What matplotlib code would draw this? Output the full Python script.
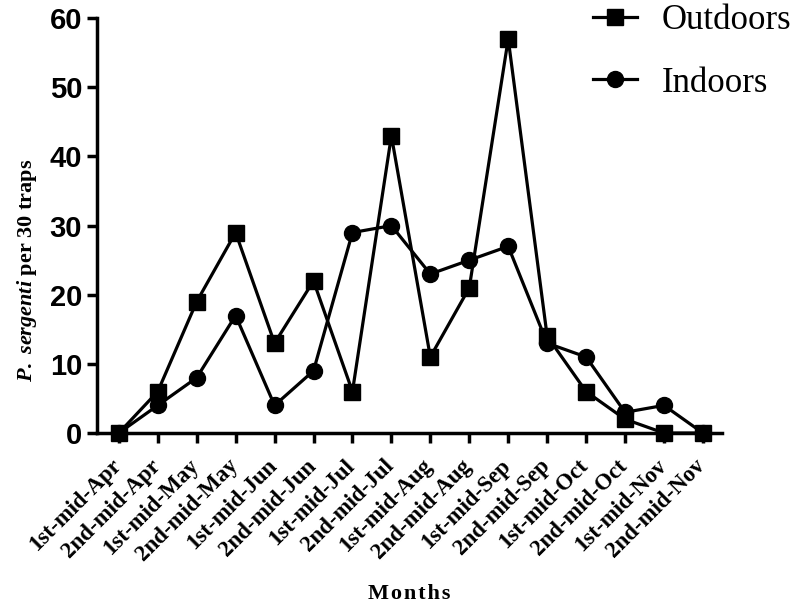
import matplotlib
matplotlib.use("Agg")
import matplotlib.pyplot as plt
from matplotlib.lines import Line2D
from matplotlib.transforms import ScaledTranslation

plt.rcParams["mathtext.fontset"] = "custom"
plt.rcParams["mathtext.it"] = "Liberation Serif:italic:bold"
plt.rcParams["mathtext.rm"] = "Liberation Serif:bold"
plt.rcParams["mathtext.bf"] = "Liberation Serif:bold"

categories = ["1st-mid-Apr", "2nd-mid-Apr", "1st-mid-May", "2nd-mid-May",
              "1st-mid-Jun", "2nd-mid-Jun", "1st-mid-Jul", "2nd-mid-Jul",
              "1st-mid-Aug", "2nd-mid-Aug", "1st-mid-Sep", "2nd-mid-Sep",
              "1st-mid-Oct", "2nd-mid-Oct", "1st-mid-Nov", "2nd-mid-Nov"]
outdoors = [0, 6, 19, 29, 13, 22, 6, 43, 11, 21, 57, 14, 6, 2, 0, 0]
indoors = [0, 4, 8, 17, 4, 9, 29, 30, 23, 25, 27, 13, 11, 3, 4, 0]
yticks = [0, 10, 20, 30, 40, 50, 60]

fig = plt.figure(figsize=(8, 6.07), dpi=100)
ax = fig.add_axes([0.121, 0.2866, 0.7815, 0.6834])

x = list(range(len(categories)))
ax.plot(x, outdoors, color="black", lw=2.3, marker="s", ms=11, clip_on=False, zorder=3)
ax.plot(x, indoors, color="black", lw=2.3, marker="o", ms=11.5, clip_on=False, zorder=3)

ax.set_xlim(-0.565, 15.49)
ax.set_ylim(0, 60)
ax.set_yticks(yticks)
ax.set_yticklabels([str(v) for v in yticks], fontfamily="Liberation Sans",
                   fontweight="bold", fontsize=21)
ax.set_xticks(x)
ax.set_xticklabels(categories, rotation=45, ha="right", rotation_mode="anchor",
                   fontfamily="Liberation Serif", fontweight="bold", fontsize=16.5)

for s in ["top", "right"]:
    ax.spines[s].set_visible(False)
for s in ["left", "bottom"]:
    ax.spines[s].set_linewidth(2.5)
ax.tick_params(axis="both", width=2.5, length=7, direction="out")
ax.tick_params(axis="y", pad=3.5)
ax.tick_params(axis="x", pad=9)

ax.set_ylabel(r"$\mathit{P.\ sergenti}$" + " per 30 traps", fontfamily="Liberation Serif",
              fontweight="bold", fontsize=16)
ax.yaxis.set_label_coords(-0.093, 0.393)
ax.set_xlabel("\u200a".join("Months"), fontfamily="Liberation Serif",
              fontweight="bold", fontsize=16, va="top")
ax.xaxis.set_label_coords(0.5, -0.364)

shift = ScaledTranslation(-6 / 72, 0, fig.dpi_scale_trans)
for lab in ax.get_xticklabels():
    lab.set_transform(lab.get_transform() + shift)

handles = [Line2D([], [], color="black", lw=2.3, marker="s", ms=11),
           Line2D([], [], color="black", lw=2.3, marker="o", ms=11.5)]
leg = fig.legend(handles, ["Outdoors", "Indoors"], loc="upper left",
                 bbox_to_anchor=(593 / 800, 1 - 4 / 607), frameon=False,
                 prop={"family": "Liberation Serif", "size": 25},
                 handlelength=1.26, labelspacing=0.85, handletextpad=0.71,
                 borderpad=0, borderaxespad=0)

fig.savefig("out.png", dpi=100)
